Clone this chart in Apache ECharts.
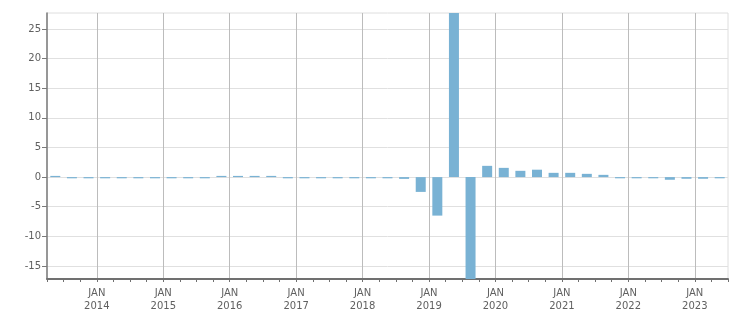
<!DOCTYPE html>
<html><head><meta charset="utf-8">
<script src="https://cdn.jsdelivr.net/npm/echarts@6/dist/echarts.min.js"></script>
<style>html,body{margin:0;padding:0;background:#fff}#c{width:751px;height:313px}</style>
</head><body><div id="c"></div>
<script>
// Quarterly categories 2013 Q2 .. 2023 Q2
const quarters = ["2013Q2","2013Q3","2013Q4",
  "2014Q1","2014Q2","2014Q3","2014Q4",
  "2015Q1","2015Q2","2015Q3","2015Q4",
  "2016Q1","2016Q2","2016Q3","2016Q4",
  "2017Q1","2017Q2","2017Q3","2017Q4",
  "2018Q1","2018Q2","2018Q3","2018Q4",
  "2019Q1","2019Q2","2019Q3","2019Q4",
  "2020Q1","2020Q2","2020Q3","2020Q4",
  "2021Q1","2021Q2","2021Q3","2021Q4",
  "2022Q1","2022Q2","2022Q3","2022Q4",
  "2023Q1","2023Q2"];
const values = [0.15,-0.1,-0.1,
  -0.1,-0.1,-0.1,-0.1,
  -0.1,-0.1,-0.1,0.15,
  0.15,0.15,0.15,-0.1,
  -0.1,-0.1,-0.1,-0.1,
  -0.1,-0.1,-0.3,-2.5,
  -6.5,34,-24,1.9,
  1.56,1.06,1.25,0.72,
  0.72,0.55,0.38,-0.1,
  -0.1,-0.1,-0.45,-0.28,
  -0.28,-0.08];
const yearLabels = ["2014","2015","2016","2017","2018","2019","2020","2021","2022","2023"];
const yTicks = [-15,-10,-5,0,5,10,15,20,25];

const FONT = "DejaVu Sans";
const chart = echarts.init(document.getElementById('c'));
chart.setOption({
  animation: false,
  grid: {left: 47, right: 23, top: 13, bottom: 32.5, show: true, borderColor: '#dedede', borderWidth: 1, backgroundColor: 'transparent'},
  xAxis: {
    type: 'value', min: 0, max: quarters.length, interval: 1,
    axisLine: {show: true, onZero: false, lineStyle: {color: '#707070', width: 2}},
    axisTick: {show: true, length: 3, lineStyle: {color: '#707070'}},
    splitLine: {show: true, lineStyle: {color: ['rgba(0,0,0,0)','rgba(0,0,0,0)','rgba(0,0,0,0)','#bcbcbc'], width: 1}},
    axisLabel: {
      showMinLabel: true, showMaxLabel: true, hideOverlap: false,
      color: '#606060', fontFamily: FONT, fontSize: 10, lineHeight: 13, margin: 8,
      formatter: function (v) {
        const k = v - 3;
        if (k >= 0 && k % 4 === 0 && yearLabels[k / 4]) return 'JAN\n' + yearLabels[k / 4];
        return '';
      }
    }
  },
  yAxis: {
    type: 'value', min: -17.2, max: 27.7,
    axisLine: {show: true, onZero: false, lineStyle: {color: '#7a7a7a', width: 1.5}},
    axisTick: {show: true, length: 5, customValues: yTicks, lineStyle: {color: '#7a7a7a'}},
    splitLine: {show: true, lineStyle: {color: '#e0e0e0'}},
    axisLabel: {
      color: '#606060', fontFamily: FONT, fontSize: 10, margin: 6,
      customValues: yTicks
    }
  },
  series: [{
    type: 'bar',
    data: values.map(function (v, i) { return [i + 0.5, v]; }),
    barWidth: 10,
    barMinHeight: 1.2,
    itemStyle: {color: '#79b2d4'},
    clip: true
  }]
});
</script></body></html>
